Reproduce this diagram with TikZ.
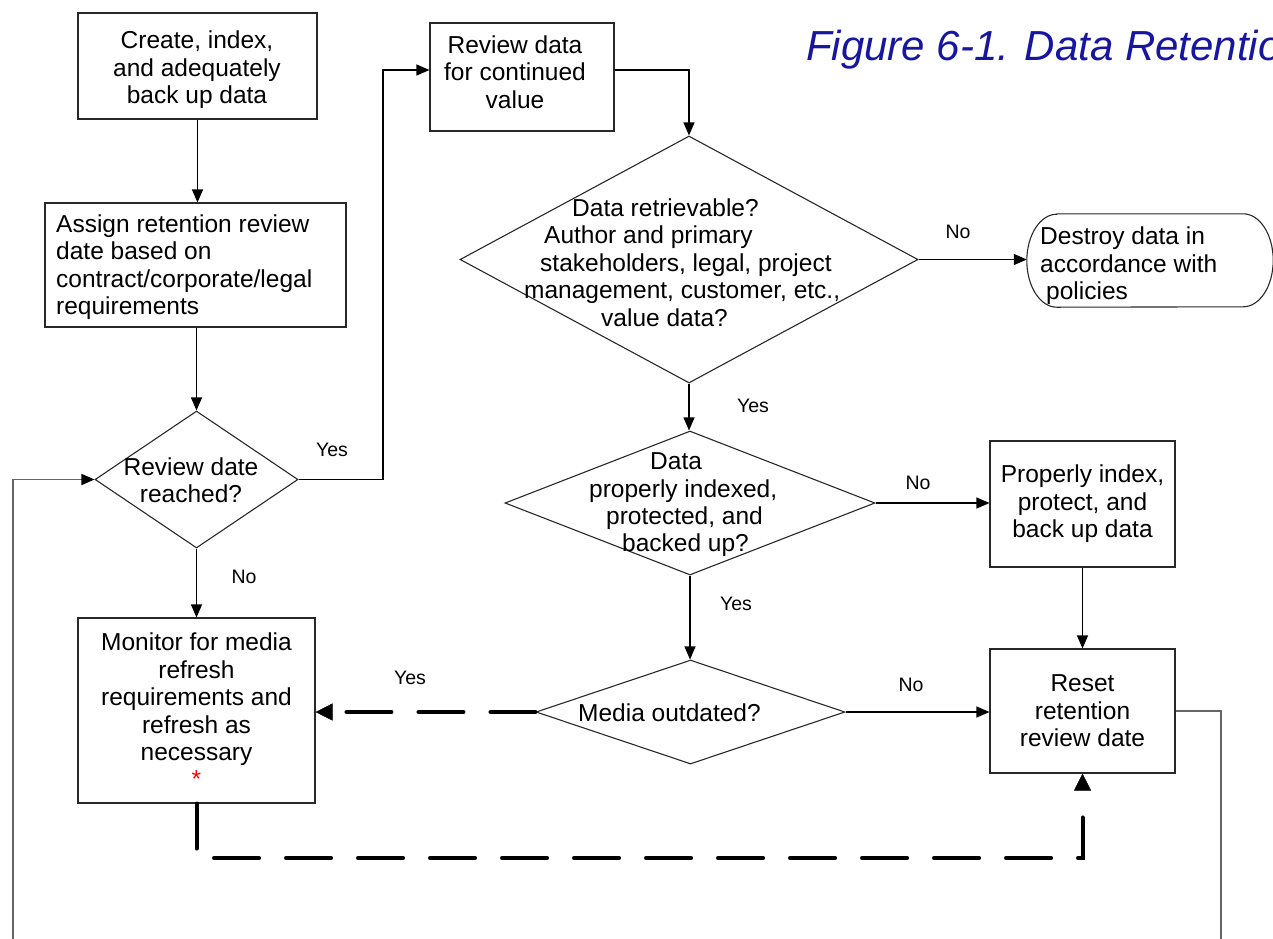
\documentclass[tikz,border=0pt]{standalone}
\usepackage{fontspec}
\setmainfont{Liberation Sans}
\usetikzlibrary{arrows.meta,shapes.geometric,calc}
\definecolor{titleblue}{RGB}{22,22,160}
\definecolor{edge}{RGB}{40,40,40}

\begin{document}
\begin{tikzpicture}[x=1pt,y=-1pt,
  body/.style={font=\fontsize{24.5pt}{27.4pt}\selectfont},
  frame/.style={draw=edge, line width=1.1pt, rectangle, inner sep=0pt},
  box/.style={body, frame, align=center},
  txt/.style={body, align=center, inner sep=0pt},
  dia/.style={draw=edge, line width=1.1pt, diamond, inner sep=0pt, aspect=1},
  lab/.style={font=\fontsize{19.5pt}{22pt}\selectfont, inner sep=0pt},
  flow/.style={line width=1.1pt, -{Triangle[length=13pt,width=11pt]}},
  dflow/.style={line width=4pt, line cap=round, dash pattern=on 45pt off 27pt,
                -{Triangle[length=17pt,width=17pt,line width=0.4pt]}},
  loopline/.style={line width=1.6pt, draw=black!60}
]
\useasboundingbox (0,0) rectangle (1273,938);
\clip (0,0) rectangle (1273,938);

% title
\node[anchor=base west, inner sep=0pt, text=titleblue,
      font=\fontsize{42pt}{50pt}\selectfont\itshape] (title) at (806,60)
      {Figure 6-1. Data Retention};

% left column
\node[frame, minimum width=239pt, minimum height=106pt] (A) at (197.5,66) {};
\node[txt] (At) at (197,70) {Create, index,\\and adequately\\back up data};
\node[frame, minimum width=301pt, minimum height=124pt] (B) at (195.5,265) {};
\node[txt, align=left, anchor=west] (Bt) at (56,267)
  {Assign retention review\\date based on\\contract/corporate/legal\\requirements};
\node[dia, minimum width=203pt, minimum height=137pt] (C) at (196.5,479.5) {};
\node[txt] (Ct) at (191,480) {Review date\\reached?};
\node[box, minimum width=237pt, minimum height=185pt] (D) at (196.5,710.5)
  {Monitor for media\\refresh\\requirements and\\refresh as\\necessary\\{\color{red}*}};

% middle column
\node[frame, minimum width=184pt, minimum height=108pt] (E) at (522,77) {};
\node[txt] (Et) at (515,72) {Review data\\for continued\\value};
\node[dia, minimum width=458pt, minimum height=247pt] (F) at (689,259.5) {};
\node[txt, align=left, anchor=west] (Ft) at (524,262.5)
  {\hspace*{48pt}Data retrievable?\\\hspace*{20pt}Author and primary\\\hspace*{16pt}stakeholders, legal, project\\management, customer, etc.,\\\hspace*{77pt}value data?};
\node[dia, minimum width=370pt, minimum height=144pt] (H) at (690,503) {};
\node[txt, align=left, anchor=west] (Ht) at (589,505)
  {\hspace*{61pt}Data\\properly indexed,\\\hspace*{17pt}protected, and\\\hspace*{33pt}backed up?};
\node[dia, minimum width=309pt, minimum height=104pt] (J) at (690.5,712) {};
\node[txt, anchor=west] (Jt) at (578,713) {Media outdated?};

% right column
\node[minimum width=246pt, minimum height=93pt, inner sep=0pt] (G) at (1150,260.5) {};
\draw[draw=edge, line width=1.1pt]
  ([xshift=30pt]G.north west) -- ([xshift=-30pt]G.north east)
  arc[start angle=90, end angle=-90, x radius=30pt, y radius=46.5pt]
  -- ([xshift=30pt]G.south west)
  arc[start angle=270, end angle=90, x radius=30pt, y radius=46.5pt] -- cycle;
\node[txt, anchor=west, align=left] (Gt) at (1040,266)
  {Destroy data in\\accordance with\\\hspace*{6pt}policies};
\node[box, minimum width=185pt, minimum height=126pt] (I) at (1082.5,504)
  {Properly index,\\protect, and\\back up data};
\node[box, minimum width=185pt, minimum height=124pt] (K) at (1082.5,711)
  {Reset\\retention\\review date};

% connectors
\draw[flow] (A.south) -- (A.south |- B.north);
\draw[flow] (B.south -| C.north) -- (C.north);
\draw[flow] (C.east) -- (383,479.5) |- ([yshift=7pt]E.west);
\draw[flow] (C.south) -- (D.north);
\draw[flow] ([yshift=7pt]E.east) -| (F.north);
\draw[flow] (F.east) -- (F.east -| G.west);
\draw[flow] (F.south) -- (F.south |- H.north);
\draw[flow] (H.east) -- (H.east -| I.west);
\draw[flow] (H.south) -- (H.south |- J.north);
\draw[flow] (I.south) -- (K.north);
\draw[flow] (J.east) -- (J.east -| K.west);
\draw[dflow] (J.west) -- (J.west -| D.east);
\draw[dflow] (D.south) -- (196.5,858) -| (K.south);

% return loop
\coordinate (loopR) at (1221,960);
\coordinate (loopL) at (13,960);
\draw[loopline] (K.east) -| (loopR);
\draw[loopline, -{Triangle[length=13pt,width=11pt,color=black]}] (loopL) |- (C.west);

% branch labels
\node[lab] (y1) at (332,450) {Yes};
\node[lab] (n1) at (244,577) {No};
\node[lab] (n2) at (958,232) {No};
\node[lab] (y2) at (753,406) {Yes};
\node[lab] (n3) at (918,483) {No};
\node[lab] (y3) at (736,604) {Yes};
\node[lab] (n4) at (911,685) {No};
\node[lab] (y4) at (410,678) {Yes};
\end{tikzpicture}
\end{document}
